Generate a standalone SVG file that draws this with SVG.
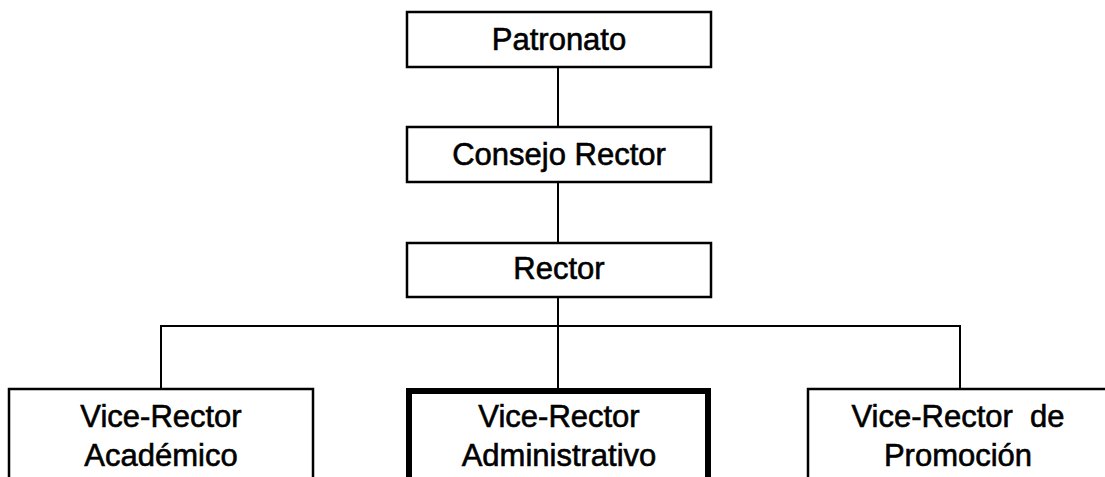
<svg xmlns="http://www.w3.org/2000/svg" width="1105" height="477" viewBox="0 0 1105 477">
<style>
.box{fill:#fff;stroke:#000;stroke-width:2.5}
.thick{fill:#fff;stroke:#000;stroke-width:6}
.lbl{font-family:"Liberation Sans",Arial,sans-serif;font-size:31px;fill:#000;stroke:#000;stroke-width:0.6;text-anchor:middle;white-space:pre}
.con{fill:none;stroke:#000;stroke-width:2}
</style>
<rect width="1105" height="477" fill="#fff"/>
<g id="connectors">
<line class="con" x1="558" y1="67" x2="558" y2="127"/>
<line class="con" x1="558" y1="182" x2="558" y2="243"/>
<line class="con" x1="558" y1="297" x2="558" y2="389"/>
<polyline class="con" points="161,389 161,326 960,326 960,389"/>
</g>
<g id="patronato">
<rect class="box" x="407" y="12" width="304" height="55"/>
<text class="lbl" x="559" y="50">Patronato</text>
</g>
<g id="consejo">
<rect class="box" x="407" y="127" width="304" height="55"/>
<text class="lbl" x="559" y="165">Consejo Rector</text>
</g>
<g id="rector">
<rect class="box" x="407" y="243" width="304" height="54"/>
<text class="lbl" x="559" y="279">Rector</text>
</g>
<g id="vr-academico">
<rect class="box" x="9" y="389" width="304" height="100"/>
<text class="lbl" x="161" y="427">Vice-Rector</text>
<text class="lbl" x="161" y="466">Académico</text>
</g>
<g id="vr-administrativo">
<rect class="thick" x="409" y="391" width="299" height="100"/>
<text class="lbl" x="559" y="427">Vice-Rector</text>
<text class="lbl" x="559" y="466">Administrativo</text>
</g>
<g id="vr-promocion">
<rect class="box" x="808" y="389" width="310" height="100"/>
<text class="lbl" x="958" y="427" xml:space="preserve">Vice-Rector  de</text>
<text class="lbl" x="958" y="466">Promoción</text>
</g>
</svg>
